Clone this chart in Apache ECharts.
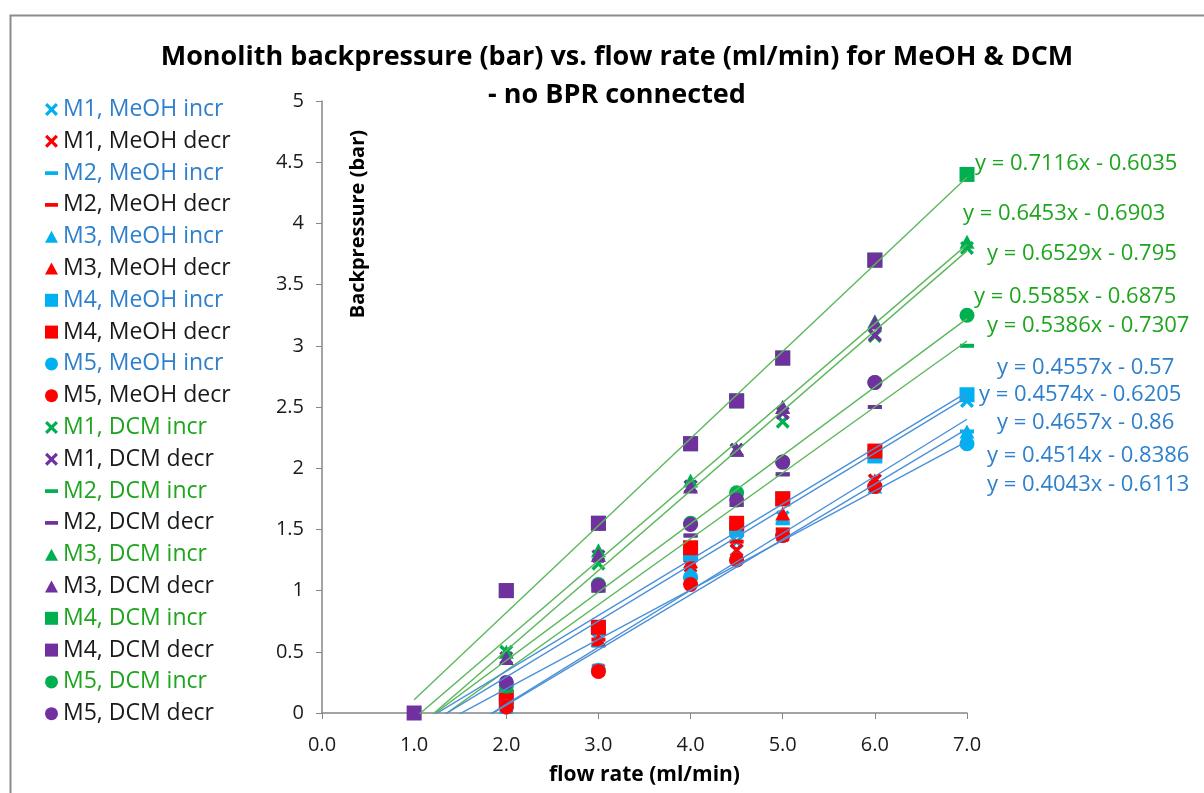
<!DOCTYPE html>
<html>
<head>
<meta charset="utf-8" />
<script src="https://cdn.jsdelivr.net/npm/echarts@6/dist/echarts.min.js"></script>
<style>
  html, body { margin: 0; padding: 0; background: #fff; }
  #main { width: 1204px; height: 793px; }
</style>
</head>
<body>
<div id="main"></div>
<script>
// flow rates (ml/min)
var flowIncr = [2, 3, 4, 4.5, 5, 6, 7];
var flowDecr = [1, 2, 3, 4, 4.5, 5, 6];

// backpressure (bar), MeOH
var m1MeohIncr = [0.15, 0.6, 1.15, 1.4, 1.6, 1.9, 2.55];
var m1MeohDecr = [null, 0.05, 0.35, 1.2, 1.33, 1.45, 1.9];
var m2MeohIncr = [0.05, 0.55, 1.1, 1.46, 1.55, 1.85, 2.3];
var m2MeohDecr = [null, 0.1, 0.6, 1.25, 1.4, 1.5, 1.85];
var m3MeohIncr = [0.05, 0.6, 1.15, 1.3, 1.6, 1.85, 2.3];
var m3MeohDecr = [null, 0.1, 0.6, 1.24, 1.3, 1.63, 1.9];
var m4MeohIncr = [0.1, 0.7, 1.3, 1.5, 1.75, 2.1, 2.6];
var m4MeohDecr = [null, 0.13, 0.7, 1.35, 1.55, 1.75, 2.14];
var m5MeohIncr = [0.05, 0.35, 1.11, 1.25, 1.45, 1.85, 2.2];
var m5MeohDecr = [null, 0.05, 0.34, 1.05, 1.25, 1.45, 1.85];

// backpressure (bar), DCM
var m1DcmIncr = [0.5, 1.22, 1.85, 2.15, 2.38, 3.08, 3.8];
var m1DcmDecr = [null, 0.45, 1.28, 1.85, 2.15, 2.45, 3.09];
var m2DcmIncr = [0.18, 1.0, 1.45, 1.7, 1.95, 2.5, 3.0];
var m2DcmDecr = [null, 0.25, 1.0, 1.45, 1.7, 1.95, 2.5];
var m3DcmIncr = [0.5, 1.33, 1.9, 2.15, 2.5, 3.2, 3.85];
var m3DcmDecr = [null, 0.45, 1.29, 1.85, 2.15, 2.5, 3.19];
var m4DcmIncr = [1.0, 1.55, 2.2, 2.55, 2.9, 3.7, 4.4];
var m4DcmDecr = [0, 1.0, 1.55, 2.2, 2.55, 2.9, 3.7];
var m5DcmIncr = [0.22, 1.05, 1.55, 1.8, 2.05, 2.7, 3.25];
var m5DcmDecr = [null, 0.25, 1.04, 1.54, 1.74, 2.05, 2.7];

// trendlines y = a x + b
var trendSlope = [0.7116, 0.6453, 0.6529, 0.5585, 0.5386, 0.4557, 0.4574, 0.4657, 0.4514, 0.4043];
var trendIntercept = [-0.6035, -0.6903, -0.795, -0.6875, -0.7307, -0.57, -0.6205, -0.86, -0.8386, -0.6113];
var trendText = ['y = 0.7116x - 0.6035', 'y = 0.6453x - 0.6903', 'y = 0.6529x - 0.795', 'y = 0.5585x - 0.6875',
  'y = 0.5386x - 0.7307', 'y = 0.4557x - 0.57', 'y = 0.4574x - 0.6205', 'y = 0.4657x - 0.86',
  'y = 0.4514x - 0.8386', 'y = 0.4043x - 0.6113'];

var FONT = '"Open Sans"';
var C_LBLUE = '#00b0f0', C_RED = '#ff0000', C_GREEN = '#00b050', C_PURPLE = '#7030a0';
var T_BLUE = '#2e80cc', T_GREEN = '#1ea51e', T_BLACK = '#1a1a1a';

var SYM_X = 'path://M0,2.6 L2.6,0 L7.5,4.9 L12.4,0 L15,2.6 L10.1,7.5 L15,12.4 L12.4,15 L7.5,10.1 L2.6,15 L0,12.4 L4.9,7.5 Z';
var SYM_DASH = 'path://M0,0 L14,0 L14,4 L0,4 Z';
var SYM_TRI = 'path://M7.5,0 L15,14 L0,14 Z';

var shapes = [
  { sym: SYM_X, size: 14 },
  { sym: 'rect', size: [14, 4], icon: SYM_DASH },
  { sym: SYM_TRI, size: [15, 14] },
  { sym: 'rect', size: 15 },
  { sym: 'circle', size: 15 }
];

var defs = [
  ['M1, MeOH incr', flowIncr, m1MeohIncr, 0, C_LBLUE, T_BLUE],
  ['M1, MeOH decr', flowDecr, m1MeohDecr, 0, C_RED, T_BLACK],
  ['M2, MeOH incr', flowIncr, m2MeohIncr, 1, C_LBLUE, T_BLUE],
  ['M2, MeOH decr', flowDecr, m2MeohDecr, 1, C_RED, T_BLACK],
  ['M3, MeOH incr', flowIncr, m3MeohIncr, 2, C_LBLUE, T_BLUE],
  ['M3, MeOH decr', flowDecr, m3MeohDecr, 2, C_RED, T_BLACK],
  ['M4, MeOH incr', flowIncr, m4MeohIncr, 3, C_LBLUE, T_BLUE],
  ['M4, MeOH decr', flowDecr, m4MeohDecr, 3, C_RED, T_BLACK],
  ['M5, MeOH incr', flowIncr, m5MeohIncr, 4, C_LBLUE, T_BLUE],
  ['M5, MeOH decr', flowDecr, m5MeohDecr, 4, C_RED, T_BLACK],
  ['M1, DCM incr', flowIncr, m1DcmIncr, 0, C_GREEN, T_GREEN],
  ['M1, DCM decr', flowDecr, m1DcmDecr, 0, C_PURPLE, T_BLACK],
  ['M2, DCM incr', flowIncr, m2DcmIncr, 1, C_GREEN, T_GREEN],
  ['M2, DCM decr', flowDecr, m2DcmDecr, 1, C_PURPLE, T_BLACK],
  ['M3, DCM incr', flowIncr, m3DcmIncr, 2, C_GREEN, T_GREEN],
  ['M3, DCM decr', flowDecr, m3DcmDecr, 2, C_PURPLE, T_BLACK],
  ['M4, DCM incr', flowIncr, m4DcmIncr, 3, C_GREEN, T_GREEN],
  ['M4, DCM decr', flowDecr, m4DcmDecr, 3, C_PURPLE, T_BLACK],
  ['M5, DCM incr', flowIncr, m5DcmIncr, 4, C_GREEN, T_GREEN],
  ['M5, DCM decr', flowDecr, m5DcmDecr, 4, C_PURPLE, T_BLACK]
];

var series = [];
var legendData = [];
defs.forEach(function (d) {
  var pts = [];
  for (var i = 0; i < d[1].length; i++) {
    if (d[2][i] != null) pts.push([d[1][i], d[2][i]]);
  }
  var sh = shapes[d[3]];
  series.push({
    name: d[0], type: 'scatter', data: pts,
    symbol: sh.sym, symbolSize: sh.size,
    itemStyle: { color: d[4], opacity: 1 },
    emphasis: { disabled: true }, z: 3
  });
  legendData.push({
    name: d[0],
    icon: sh.icon || sh.sym,
    itemStyle: { color: d[4] },
    textStyle: { color: d[5] }
  });
});

// trendlines: first five green (DCM), last five blue (MeOH)
var graphics = [];
var labelPos = [[975, 163], [963, 213], [987, 253], [974, 296], [987, 325],
  [997, 367], [979, 394], [997, 422], [987, 455], [987, 484]];
for (var k = 0; k < trendSlope.length; k++) {
  var green = k < 5;
  series.push({
    type: 'line', silent: true, symbol: 'none', clip: true,
    data: [[1, trendSlope[k] * 1 + trendIntercept[k]], [7, trendSlope[k] * 7 + trendIntercept[k]]],
    lineStyle: { color: green ? '#5cb85c' : '#4a90d9', width: 1.4 },
    z: 4
  });
  graphics.push({
    type: 'text', left: labelPos[k][0], top: labelPos[k][1] - 10,
    style: { text: trendText[k], fill: green ? T_GREEN : T_BLUE, font: '22px ' + FONT }
  });
}

graphics.push({
  type: 'rect', left: 8, top: 13, silent: true, z: -1,
  shape: { width: 1300, height: 900 },
  style: { fill: 'none', stroke: '#8c8c8c', lineWidth: 2 }
});
graphics.push({
  type: 'text', left: 348, top: 130, rotation: Math.PI / 2, silent: true,
  style: { text: 'Backpressure (bar)', fill: '#000', font: 'bold 20px ' + FONT }
});

var chart = echarts.init(document.getElementById('main'), null, { renderer: 'canvas' });
chart.setOption({
  animation: false,
  backgroundColor: '#fff',
  title: {
    text: 'Monolith backpressure (bar) vs. flow rate (ml/min) for MeOH & DCM\n- no BPR connected',
    left: 612, top: 33, textAlign: 'center',
    textStyle: { fontFamily: FONT, fontWeight: 'bold', fontSize: 27, color: '#000', lineHeight: 38 }
  },
  legend: {
    orient: 'vertical', left: 40, top: 93,
    itemWidth: 13, itemHeight: 13, itemGap: 8.8, itemStyle: { borderWidth: 0 },
    textStyle: { fontFamily: FONT, fontSize: 23, lineHeight: 23 },
    data: legendData, selectedMode: false
  },
  grid: { left: 322, right: 237, top: 101, bottom: 80 },
  xAxis: {
    type: 'value', min: 0, max: 7, interval: 1,
    name: 'flow rate (ml/min)', nameLocation: 'middle', nameGap: 52,
    nameTextStyle: { fontFamily: FONT, fontWeight: 'bold', fontSize: 21, color: '#000' },
    axisLine: { lineStyle: { color: '#868686', width: 1.5 } },
    axisTick: { show: true, length: 6, lineStyle: { color: '#868686' } },
    splitLine: { show: false },
    axisLabel: { fontFamily: FONT, fontSize: 20, color: '#1a1a1a', margin: 22,
      formatter: function (v) { return v.toFixed(1); } }
  },
  yAxis: {
    type: 'value', min: 0, max: 5, interval: 0.5,
    axisLine: { show: true, lineStyle: { color: '#868686', width: 1.5 } },
    axisTick: { show: true, length: 6, lineStyle: { color: '#868686' } },
    splitLine: { show: false },
    axisLabel: { fontFamily: FONT, fontSize: 20, color: '#1a1a1a', margin: 18 }
  },
  graphic: graphics,
  series: series
});
</script>
</body>
</html>
